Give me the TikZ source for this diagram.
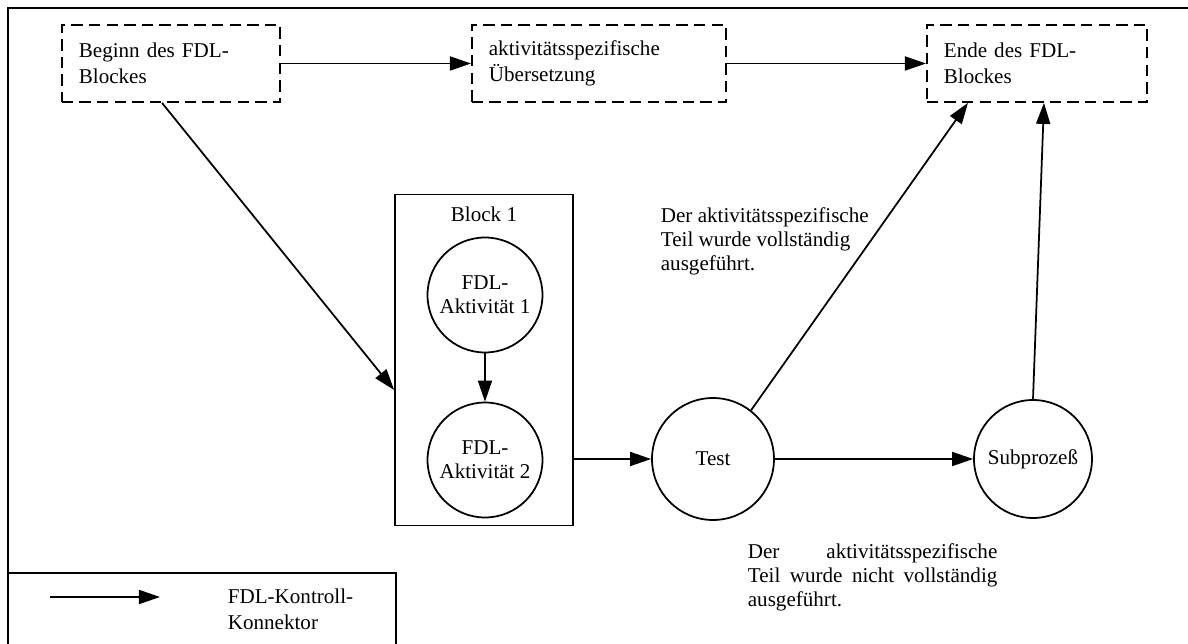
\documentclass[tikz,border=0pt]{standalone}
\usepackage{fontspec}
\setmainfont{Liberation Serif}
\usetikzlibrary{arrows.meta}

\begin{document}
\begin{tikzpicture}[x=0.02cm, y=0.02cm, line width=1pt, >={Triangle[length=12pt,width=8pt]}]
			\tikzstyle{every node}+=[inner sep=0pt, font=\fontsize{12pt}{13.6pt}\selectfont]
			\tikzstyle{fdlblock}=[draw, dash pattern=on 6.5pt off 3.5pt, minimum height=1.54cm, inner xsep=0.34cm, align=left, anchor=west, font=\fontsize{12pt}{15pt}\selectfont]
			\tikzstyle{akt}=[draw, circle, align=center]
			\useasboundingbox (0,0) rectangle (1188,-644);
			\draw (8,-644) -- (8,-8) -- (1188,-8);
			\draw (8,-573) -- (396,-573) -- (396,-644);
			\node [fdlblock, text width=3.68cm] (beginn) at (61,-63.5) {Beginn des FDL-\\Blockes};
			\node [fdlblock, text width=4.4cm] (uebers) at (471,-63.5) {aktivitätsspezifische\\Übersetzung};
			\node [fdlblock, text width=3.72cm] (ende) at (926,-63.5) {Ende des FDL-\\Blockes};
			\draw [->] (beginn) -- (uebers);
			\draw [->] (uebers) -- (ende);
			\node [draw, minimum width=3.56cm, minimum height=6.62cm] (block) at (484,-360) {};
			\node (blocktitel) at (484,-214) {Block 1};
			\node [akt, minimum size=2.3cm] (akt1) at (485,-295) {FDL-\\Aktivität 1};
			\node [akt, minimum size=2.3cm] (akt2) at (485,-460) {FDL-\\Aktivität 2};
			\node [akt, minimum size=2.44cm] (test) at (713,-459) {Test};
			\node [akt, minimum size=2.36cm] (sub) at (1033,-459) {Subprozeß};
			\draw [->] (akt1) -- (akt2);
			\draw [->] ([xshift=2.02cm]beginn.south west) -- ([yshift=-0.6cm]block.west);
			\draw [->] (block.east |- test) -- (test.west);
			\draw [->] (test) -- (sub);
			\draw [->] (test.52) -- ([xshift=0.84cm]ende.south west);
			\draw [->] (sub.north) -- ([xshift=2.36cm]ende.south west);
			\node [anchor=north west, align=left] (ok) at (660,-207) {Der aktivitätsspezifische\\Teil wurde vollständig\\ausgeführt.};
			\node [anchor=north west, align=justify, text width=142pt] (nichtok) at (747,-543) {Der aktivitätsspezifische\linebreak Teil wurde nicht vollständig\linebreak ausgeführt.};
			\coordinate (legende1) at (50,-597);
			\coordinate (legende2) at (160,-597);
			\draw [->] (legende1) -- (legende2);
			\node [anchor=north west, align=left, font=\fontsize{12pt}{15pt}\selectfont] (legtext) at (227,-588) {FDL-Kontroll-\\Konnektor};
		\end{tikzpicture}
\end{document}
